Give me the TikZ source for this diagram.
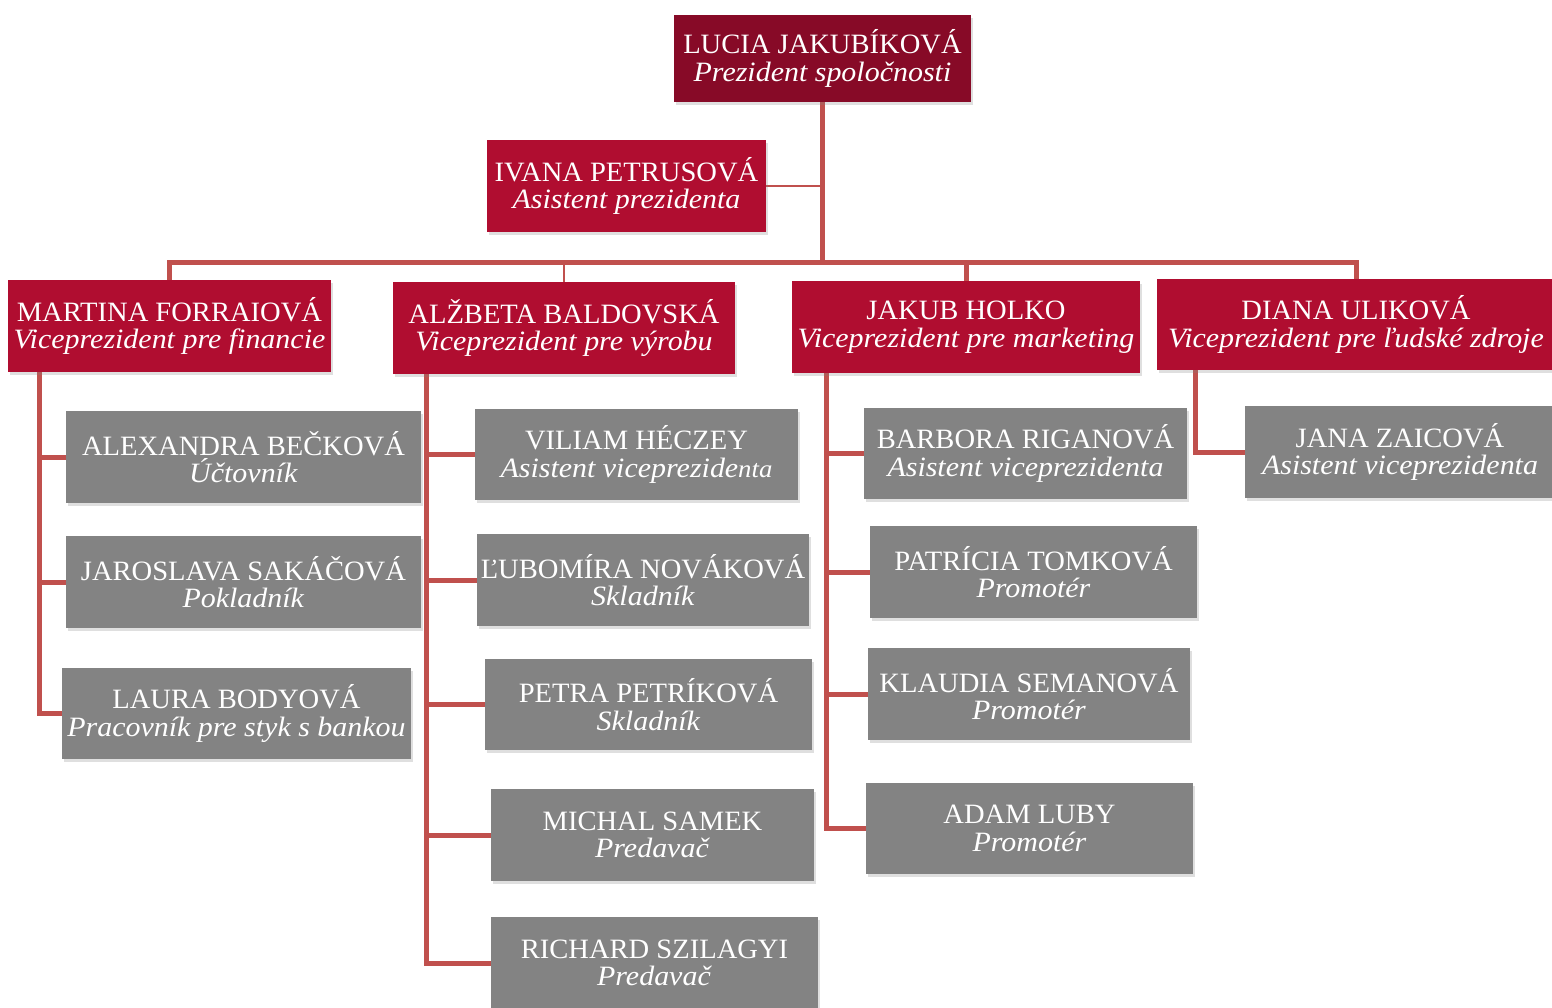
\documentclass[tikz,border=0pt]{standalone}
\usepackage{fontspec}
\setmainfont{Liberation Serif}[UprightFeatures={FakeStretch=1.02},ItalicFeatures={FakeStretch=1.07}]
\usetikzlibrary{shadows,backgrounds,calc}
\definecolor{topred}{HTML}{870A27}
\definecolor{vpred}{HTML}{B00D30}
\definecolor{staffgray}{HTML}{838383}
\definecolor{linered}{HTML}{C0504D}
\begin{document}
\begin{tikzpicture}[x=1pt,y=-1pt,
  box/.style={rectangle, inner sep=0pt, align=center, text=white,
    font=\fontsize{28}{27.5}\selectfont,
    drop shadow={shadow xshift=1.5pt, shadow yshift=-3pt, opacity=0.25}},
  topbox/.style={box, fill=topred},
  redbox/.style={box, fill=vpred},
  graybox/.style={box, fill=staffgray},
  trunk/.style={draw=linered, line width=5pt, line join=miter},
  twig/.style={draw=linered, line width=2pt},
  sz/.style 2 args={minimum width=#1pt, minimum height=#2pt}]
\useasboundingbox (0,0) rectangle (1552,1007);

% top level
\node[topbox, sz={297}{87}] (lucia) at (822.5,58.5) {LUCIA JAKUBÍKOVÁ\\\textit{Prezident spoločnosti}};
\node[redbox, sz={279}{92}] (ivana) at (626.5,186) {IVANA PETRUSOVÁ\\\textit{Asistent prezidenta}};

% vice presidents
\node[redbox, sz={323}{92}] (martina) at (169.5,326) {MARTINA FORRAIOVÁ\\\textit{Viceprezident pre financie}};
\node[redbox, sz={342}{92}] (alzbeta) at (564,328) {ALŽBETA BALDOVSKÁ\\\textit{Viceprezident pre výrobu}};
\node[redbox, sz={348}{92}] (jakub) at (966,327) {JAKUB HOLKO\\\textit{Viceprezident pre marketing}};
\node[redbox, sz={398}{91}] (diana) at (1356,324.5) {DIANA ULIKOVÁ\\\textit{Viceprezident pre ľudské zdroje}};

% finance
\node[graybox, sz={355}{92}] (alexandra) at (243.5,457) {ALEXANDRA BEČKOVÁ\\\textit{Účtovník}};
\node[graybox, sz={355}{92}] (jaroslava) at (243.5,582) {JAROSLAVA SAKÁČOVÁ\\\textit{Pokladník}};
\node[graybox, sz={349}{91}] (laura) at (236.5,713.5) {LAURA BODYOVÁ\\\textit{Pracovník pre styk s bankou}};

% production
\node[graybox, sz={323}{91}] (viliam) at (636.5,454.5) {VILIAM HÉCZEY\\\textit{Asistent viceprezide{\fontsize{25}{27.5}\selectfont nta}}};
\node[graybox, sz={332}{92}] (lubomira) at (643,580) {ĽUBOMÍRA NOVÁKOVÁ\\\textit{Skladník}};
\node[graybox, sz={327}{91}] (petra) at (648.5,704.5) {PETRA PETRÍKOVÁ\\\textit{Skladník}};
\node[graybox, sz={323}{92}] (michal) at (652.5,835) {MICHAL SAMEK\\\textit{Predavač}};
\node[graybox, sz={327}{92}] (richard) at (654.5,963) {RICHARD SZILAGYI\\\textit{Predavač}};

% marketing
\node[graybox, sz={323}{91}] (barbora) at (1025.5,453.5) {BARBORA RIGANOVÁ\\\textit{Asistent viceprezidenta}};
\node[graybox, sz={327}{92}] (patricia) at (1033.5,572) {PATRÍCIA TOMKOVÁ\\\textit{Promotér}};
\node[graybox, sz={322}{92}] (klaudia) at (1029,694) {KLAUDIA SEMANOVÁ\\\textit{Promotér}};
\node[graybox, sz={327}{91}] (adam) at (1029.5,828.5) {ADAM LUBY\\\textit{Promotér}};

% human resources
\node[graybox, sz={310}{92}] (jana) at (1400,452) {JANA ZAICOVÁ\\\textit{Asistent viceprezidenta}};

\coordinate (hub) at (822.5,262);
\coordinate (mv) at ($(martina.south west)+(32,0)$);
\coordinate (av) at ($(alzbeta.south west)+(34,0)$);
\coordinate (jv) at ($(jakub.south west)+(35,0)$);
\coordinate (dv) at ($(diana.south west)+(39,0)$);

\begin{scope}[on background layer]
\fill[white] (0,0) rectangle (1552,1007);
\draw[trunk] (lucia.south) -- (hub);
\draw[trunk] (martina.north) -- (martina.north |- hub) -- (diana.north |- hub) -- (diana.north);
\draw[trunk] (jakub.north) -- (jakub.north |- hub);
\draw[twig] (alzbeta.north) -- (alzbeta.north |- hub);
\draw[twig] (ivana.east) -- (ivana.east -| hub);

\draw[trunk] (mv) -- (mv |- laura.west) -- (laura.west);
\draw[trunk] (mv |- alexandra.west) -- (alexandra.west);
\draw[trunk] (mv |- jaroslava.west) -- (jaroslava.west);

\draw[trunk] (av) -- (av |- richard.west) -- (richard.west);
\draw[trunk] (av |- viliam.west) -- (viliam.west);
\draw[trunk] (av |- lubomira.west) -- (lubomira.west);
\draw[trunk] (av |- petra.west) -- (petra.west);
\draw[trunk] (av |- michal.west) -- (michal.west);

\draw[trunk] (jv) -- (jv |- adam.west) -- (adam.west);
\draw[trunk] (jv |- barbora.west) -- (barbora.west);
\draw[trunk] (jv |- patricia.west) -- (patricia.west);
\draw[trunk] (jv |- klaudia.west) -- (klaudia.west);

\draw[trunk] (dv) -- (dv |- jana.west) -- (jana.west);
\end{scope}
\end{tikzpicture}
\end{document}
